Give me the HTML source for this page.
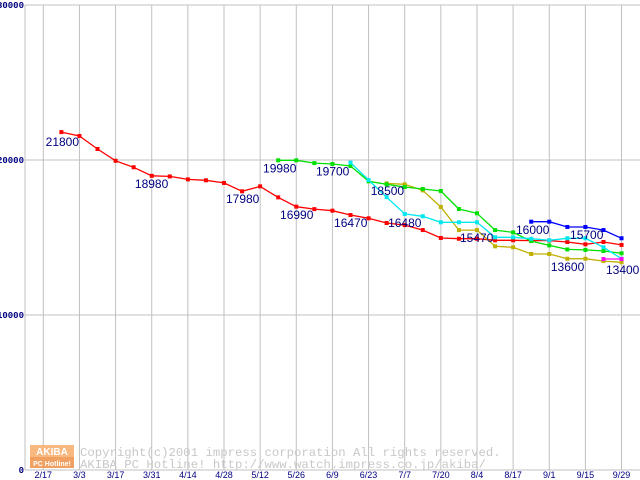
<!DOCTYPE html>
<html><head><meta charset="utf-8"><style>
html,body{margin:0;padding:0;background:#fff;}
svg{display:block;}
</style></head><body>
<svg id="chart" width="640" height="480" xmlns="http://www.w3.org/2000/svg" font-family="Liberation Sans, sans-serif">
<g id="grid"></g>
<g id="watermark">
  <rect x="30" y="445" width="44" height="12" fill="#f8b880"/>
  <rect x="30" y="457" width="44" height="11" fill="#f0a060"/>
  <text x="52" y="455" font-size="10" fill="#fff" text-anchor="middle" font-weight="bold">AKIBA</text>
  <text x="52" y="466" font-size="7" fill="#fff" text-anchor="middle" font-weight="bold">PC Hotline!</text>
  <text x="80" y="456" font-size="12.3" fill="#c8c8c8" font-family="Liberation Mono, monospace">Copyright(c)2001 impress corporation All rights reserved.</text>
  <text x="80" y="468" font-size="12.3" fill="#c8c8c8" font-family="Liberation Mono, monospace">AKIBA PC Hotline!  http://www.watch.impress.co.jp/akiba/</text>
</g>
<g id="series"></g>
<g id="labels"></g>
</svg>
<script>
const xTickLabels = ["2/17","3/3","3/17","3/31","4/14","4/28","5/12","5/26","6/9","6/23","7/7","7/20","8/4","8/17","9/1","9/15","9/29"];
const yTicks = [0,10000,20000,30000];
const redStart = 1;
const redValues = [21800,21550,20710,19950,19530,18980,18940,18750,18690,18520,17980,18300,17590,16990,16830,16730,16450,16240,15935,15800,15480,14970,14920,14920,14820,14820,14800,14800,14710,14560,14710,14520];
const greenStart = 13;
const greenValues = [19980,19980,19800,19740,19610,18625,18430,18260,18130,18000,16840,16560,15480,15330,14770,14490,14230,14200,14130,13980];
const cyanStart = 17;
const cyanValues = [19830,18710,17600,16520,16370,15980,15980,15980,15010,15010,14920,14820,14950,14950,14370,13630];
const oliveStart = 19;
const oliveValues = [18490,18430,18040,16970,15480,15480,14430,14370,13935,13935,13630,13630,13480,13400];
const blueStart = 27;
const blueValues = [16020,16020,15680,15680,15480,14950];
const magentaStart = 31;
const magentaValues = [13610,13610];
const valueLabels = ["21800","18980","17980","16990","19980","19700","18500","16470","16480","15470","16000","15700","13600","13400"];
const labelWeeks = [0.13,5.07,10.11,13.1,12.16,15.09,18.12,16.09,19.08,23.06,26.16,29.15,28.09,31.14];
const labelValues = [20903,18194,17226,16194,19181,18987,17742,15677,15677,14710,15226,14903,12839,12645];

const x0 = 43.3, weekW = 18.07;
function xs(k){ return x0 + weekW*k; }
function ys(v){ return 470 - v*0.0155; }
const NS="http://www.w3.org/2000/svg";
function mk(tag, attrs, parent){ const e=document.createElementNS(NS,tag); for(const k in attrs) e.setAttribute(k,attrs[k]); parent.appendChild(e); return e; }

const grid=document.getElementById('grid');
yTicks.forEach(v=>{
  const l=mk('line',{x1:25,x2:640,y1:ys(v),y2:ys(v),stroke:'#c0c0c0','stroke-width':1},grid);
  
  
  const t=mk('text',{x:24,y:ys(v)+3,'font-size':9,fill:'#000080','text-anchor':'end','font-weight':'bold','font-family':'Liberation Mono, monospace'},grid);
  t.textContent=String(v);
  
  
});
xTickLabels.forEach((s,i)=>{
  const x=xs(i*2);
  const l=mk('line',{x1:x,x2:x,y1:ys(30000),y2:470,stroke:'#c0c0c0','stroke-width':1},grid);
  
  
  const t=mk('text',{x:x,y:478,'font-size':9,fill:'#000080','text-anchor':'middle'},grid);
  t.textContent=s;
  
  
});
const ax=mk('line',{x1:25,x2:25,y1:ys(30000),y2:470,stroke:'#c0c0c0','stroke-width':1},grid);



const ser=document.getElementById('series');
function drawSeries(name,start,vals,color){
  const g=mk('g',{},ser);
  
  
  const pts=vals.map((v,i)=>xs(start+i).toFixed(1)+','+ys(v).toFixed(1)).join(' ');
  const pl=mk('polyline',{points:pts,fill:'none',stroke:color,'stroke-width':1.3},g);
  
  
  vals.forEach((v,i)=>{
    const r=mk('rect',{x:xs(start+i)-2,y:ys(v)-2,width:4,height:4,fill:color},g);
    
    
  });
}
drawSeries('red-series',redStart,redValues,'#ff0000');
drawSeries('olive-series',oliveStart,oliveValues,'#c0b000');
drawSeries('green-series',greenStart,greenValues,'#00e000');
drawSeries('cyan-series',cyanStart,cyanValues,'#00e8f0');
drawSeries('blue-series',blueStart,blueValues,'#0000ff');
drawSeries('magenta-series',magentaStart,magentaValues,'#ff00ff');

const lab=document.getElementById('labels');
valueLabels.forEach((s,i)=>{
  const t=mk('text',{x:xs(labelWeeks[i]),y:ys(labelValues[i]),'font-size':12,fill:'#000080'},lab);
  t.textContent=s;
  
  
});
</script>
</body></html>
